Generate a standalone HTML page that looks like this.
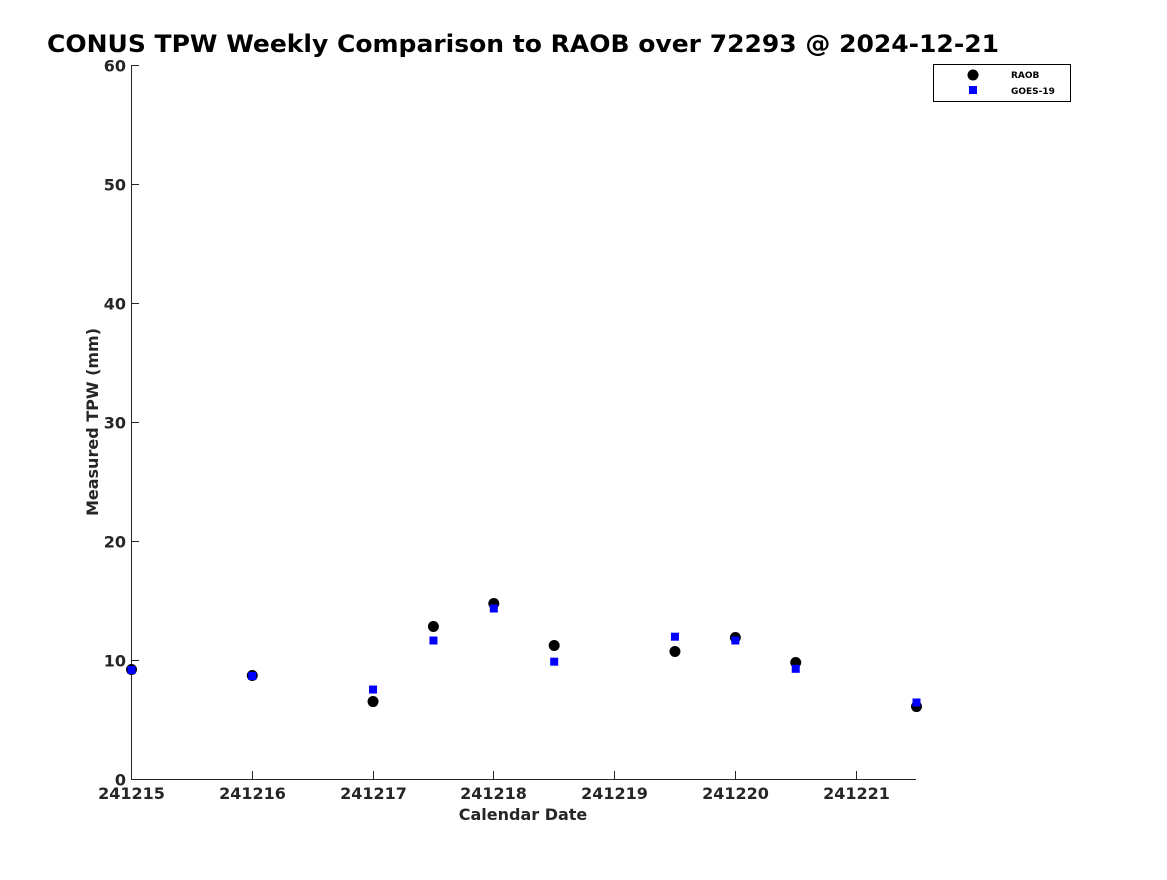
<!DOCTYPE html>
<html><head><meta charset="utf-8"><style>
body{margin:0;background:#fff;}
svg text{font-family:"DejaVu Sans","Liberation Sans",sans-serif;}
</style></head><body>
<svg id="chart" width="1167" height="875" xmlns="http://www.w3.org/2000/svg">
<rect width="1167" height="875" fill="#fff"/>
<text x="47" y="52" font-size="24" font-weight="bold" fill="#000" textLength="952" lengthAdjust="spacingAndGlyphs">CONUS TPW Weekly Comparison to RAOB over 72293 @ 2024-12-21</text>
<g id="axes"></g>
<g id="marks"></g>
<g>
<rect x="933.5" y="64.5" width="137" height="37" fill="#fff" stroke="#000" stroke-width="1"/>
<circle cx="973" cy="75" r="5.5" fill="#000"/>
<text x="1011" y="78" font-size="9" font-weight="bold" fill="#000">RAOB</text>
<rect x="969" y="86" width="8" height="8" fill="#0000ff"/>
<text x="1011" y="94" font-size="9" font-weight="bold" fill="#000">GOES-19</text>
</g>
</svg>
<script>
const xDates = [241215.0,241216.0,241217.0,241217.5,241218.0,241218.5,241219.5,241220.0,241220.5,241221.5];
const raob = [9.24,8.74,6.55,12.86,14.79,11.26,10.76,11.93,9.83,6.13];
const goes = [9.2,8.7,7.56,11.68,14.37,9.9,12.0,11.68,9.3,6.47];
const xTicks = [241215,241216,241217,241218,241219,241220,241221];
const yTicks = [0,10,20,30,40,50,60];
const X0=131, X1=916, XMIN=241215, XMAX=241221.5;
const Y0=779, Y1=65, YMIN=0, YMAX=60;
const xs = v => X0+(v-XMIN)/(XMAX-XMIN)*(X1-X0);
const ys = v => Y0-(v-YMIN)/(YMAX-YMIN)*(Y0-Y1);
const NS="http://www.w3.org/2000/svg";
const axes=document.getElementById('axes'), marks=document.getElementById('marks');
function mk(tag,attrs,parent){const e=document.createElementNS(NS,tag);for(const k in attrs)e.setAttribute(k,attrs[k]);parent.appendChild(e);return e;}
let l=mk('line',{x1:X0,y1:Y0+0.5,x2:X1,y2:Y0+0.5,stroke:'#262626','stroke-width':1},axes);


l=mk('line',{x1:X0+0.5,y1:Y1,x2:X0+0.5,y2:Y0,stroke:'#262626','stroke-width':1},axes);


xTicks.forEach(t=>{const x=Math.round(xs(t))+0.5;
 mk('line',{x1:x,y1:Y0,x2:x,y2:Y0-8,stroke:'#262626'},axes);
 const tx=mk('text',{x:x,y:Y0+20,'font-size':16,'font-weight':'bold',fill:'#262626','text-anchor':'middle'},axes);
 tx.textContent=t;
 
 
});
yTicks.forEach(t=>{const y=Math.round(ys(t))+0.5;
 mk('line',{x1:X0,y1:y,x2:X0+8,y2:y,stroke:'#262626'},axes);
 const tx=mk('text',{x:X0-5,y:y+6,'font-size':16,'font-weight':'bold',fill:'#262626','text-anchor':'end'},axes);
 tx.textContent=t;
 
 
});
let t=mk('text',{x:523,y:820,'font-size':16,'font-weight':'bold',fill:'#262626','text-anchor':'middle'},axes);
t.textContent='Calendar Date';


t=mk('text',{x:0,y:0,'font-size':16,'font-weight':'bold',fill:'#262626','text-anchor':'middle',transform:'translate(98,422) rotate(-90)'},axes);
t.textContent='Measured TPW (mm)';


xDates.forEach((d,i)=>{
 const c=mk('circle',{cx:xs(d)+0.5,cy:ys(raob[i])+0.5,r:5.5,fill:'#000'},marks);
 
 
});
xDates.forEach((d,i)=>{
 const r=mk('rect',{x:xs(d)-3.5,y:ys(goes[i])-3.5,width:8,height:8,fill:'#0000ff'},marks);
 
 
});
</script>
</body></html>
